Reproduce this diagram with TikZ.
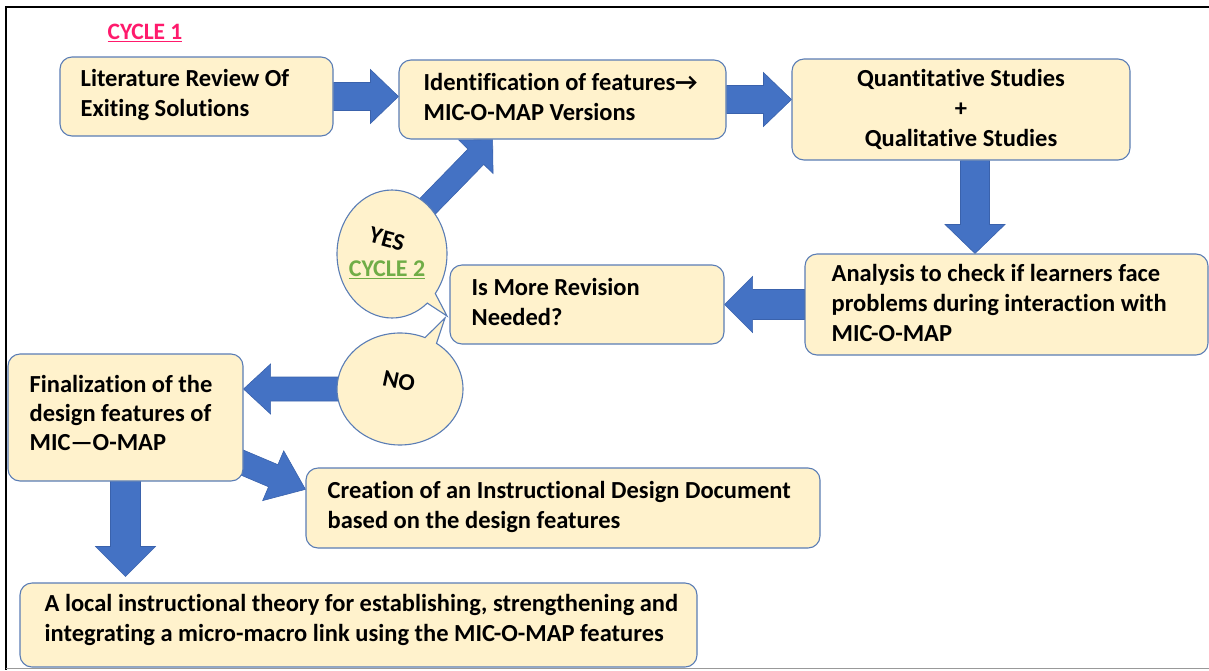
\documentclass[tikz,border=0pt]{standalone}
\usepackage{fontspec}
\setmainfont{Carlito}[Ligatures=NoCommon]
\usetikzlibrary{calc,shapes.callouts,backgrounds}

\definecolor{boxfill}{HTML}{FFF2CC}
\definecolor{boxline}{HTML}{5A7DB5}
\definecolor{arrowfill}{HTML}{4472C4}
\definecolor{arrowline}{HTML}{3A62AC}
\definecolor{cyclepink}{HTML}{FF1A6C}
\definecolor{cyclegreen}{HTML}{70AD47}

% block arrow: start, tip, shaft half-width, head half-width, head length
\newcommand{\blockarr}[5]{%
  \coordinate (ba-h) at ($(#2)!#5!(#1)$);
  \filldraw[blockarrow] ($(#1)!#3!90:(#2)$) -- ($(ba-h)!#3!90:(#2)$)
    -- ($(ba-h)!#4!90:(#2)$) -- (#2) -- ($(ba-h)!#4!-90:(#2)$)
    -- ($(ba-h)!#3!-90:(#2)$) -- ($(#1)!#3!-90:(#2)$) -- cycle;
}

\tikzset{
  box/.style={draw=boxline, fill=boxfill, line width=1.1pt, rounded corners=12pt, inner sep=0pt},
  txt/.style={align=left, anchor=west, inner sep=0pt},
  bubble/.style={ellipse callout, draw=boxline, fill=boxfill, line width=1.1pt, align=center,
    inner sep=0pt, callout pointer arc=12},
  blockarrow/.style={fill=arrowfill, draw=arrowline, line width=0.6pt},
  bubbletext/.style={font=\bfseries\fontsize{24}{30}\selectfont, inner sep=0pt, align=center},
}

\begin{document}
\begin{tikzpicture}[x=1pt, y=-1pt, font=\bfseries\fontsize{24.5}{30}\selectfont]
\useasboundingbox (0,0) rectangle (1209,670);

% frame
\draw[line width=2.5pt] (5,7) -- (1209,7);
\draw[line width=2.5pt] (6,6) -- (6,670);
\draw[black!40, line width=1.5pt] (6,668.5) -- (1209,668.5);

\node[text=cyclepink, font=\bfseries\fontsize{23.5}{28}\selectfont] (c1) at (145,33) {\underline{CYCLE 1}};

% process boxes
\node[box, minimum width=273pt, minimum height=79pt] (lit) at (196.5,96.5) {};
\node[txt] (lit-t) at ([xshift=21pt, yshift=2pt]lit.west) {Literature Review Of\\Exiting Solutions};

\node[box, minimum width=327pt, minimum height=79pt] (ident) at (562.5,99.5) {};
\node[txt] (ident-t) at ([xshift=25pt, yshift=3pt]ident.west) {Identification of features→\\MIC-O-MAP Versions};

\node[box, minimum width=338pt, minimum height=101pt, align=center] (quant) at (961,109.5)
  {Quantitative Studies\\+\\Qualitative Studies};

\node[box, minimum width=403pt, minimum height=101pt] (anal) at (1006.5,304.5) {};
\node[txt] (anal-t) at ([xshift=27pt, yshift=2pt]anal.west)
  {Analysis to check if learners face\\problems during interaction with\\MIC-O-MAP};

\node[box, minimum width=274pt, minimum height=79pt] (rev) at (587,304.5) {};
\node[txt] (rev-t) at ([xshift=22pt, yshift=3pt]rev.west) {Is More Revision\\Needed?};

\node[box, minimum width=235pt, minimum height=127pt] (fin) at (125.5,417.5) {};
\node[txt, font=\bfseries\fontsize{24.5}{29}\selectfont] (fin-t) at ([xshift=22pt, yshift=5pt]fin.west)
  {Finalization of the\\design features of\\MIC—O-MAP};

\node[box, minimum width=514pt, minimum height=80pt] (cre) at (563,508) {};
\node[txt] (cre-t) at ([xshift=22pt, yshift=1pt]cre.west) {Creation of an Instructional Design Document\\based on the design features};

\node[box, minimum width=677pt, minimum height=84pt] (theory) at (358.5,625) {};
\node[txt] (theory-t) at ([xshift=25pt, yshift=5pt]theory.west)
  {A local instructional theory for establishing, strengthening and\\integrating a micro-macro link using the MIC-O-MAP features};

% decision bubbles
\node[bubble, minimum width=110pt, minimum height=128pt, callout absolute pointer={(447,316)}] (yes) at (392,254) {};
\node[bubbletext, rotate=-15] (yes-t) at (387,239) {YES};
\node[bubbletext, text=cyclegreen] (yes-c) at (387,270) {\underline{CYCLE 2}};

\node[bubble, minimum width=126pt, minimum height=112pt, callout absolute pointer={(445,318)}] (no) at (400,389) {};
\node[bubbletext, rotate=-12] (no-t) at (399,381) {NO};

% block arrows
\begin{pgfonlayer}{background}
  \coordinate (a1e) at (ident.west |- lit.east);
  \blockarr{lit.east}{a1e}{14pt}{27pt}{28pt}
  \coordinate (a2e) at (quant.west |- ident.east);
  \blockarr{ident.east}{a2e}{14pt}{27pt}{28pt}
  \coordinate (a3s) at ([xshift=14pt]quant.south);
  \coordinate (a3e) at (a3s |- anal.north);
  \blockarr{a3s}{a3e}{14.5pt}{30pt}{29pt}
  \coordinate (a4e) at (rev.east |- anal.west);
  \blockarr{anal.west}{a4e}{15pt}{28pt}{28pt}
  \coordinate (a5s) at ($(yes.center)+(30,-42)$);
  \coordinate (a5e) at ($(ident.south west)!0.287!(ident.south east)$);
  \blockarr{a5s}{a5e}{11pt}{24pt}{24pt}
  \coordinate (a6s) at ([xshift=10pt]no.west);
  \coordinate (a6e) at (fin.east |- no.west);
  \blockarr{a6s}{a6e}{12pt}{25pt}{27pt}
  \coordinate (a7s) at ($(fin.south east)+(-18,-26)$);
  \coordinate (a7e) at ($(cre.north west)!0.27!(cre.south west)$);
  \blockarr{a7s}{a7e}{12pt}{27pt}{35pt}
  \coordinate (a8s) at ([yshift=10pt]fin.south);
  \coordinate (a8e) at ($(fin.south |- theory.north)+(0,-6)$);
  \blockarr{a8s}{a8e}{15pt}{30pt}{30pt}
\end{pgfonlayer}
\end{tikzpicture}
\end{document}
